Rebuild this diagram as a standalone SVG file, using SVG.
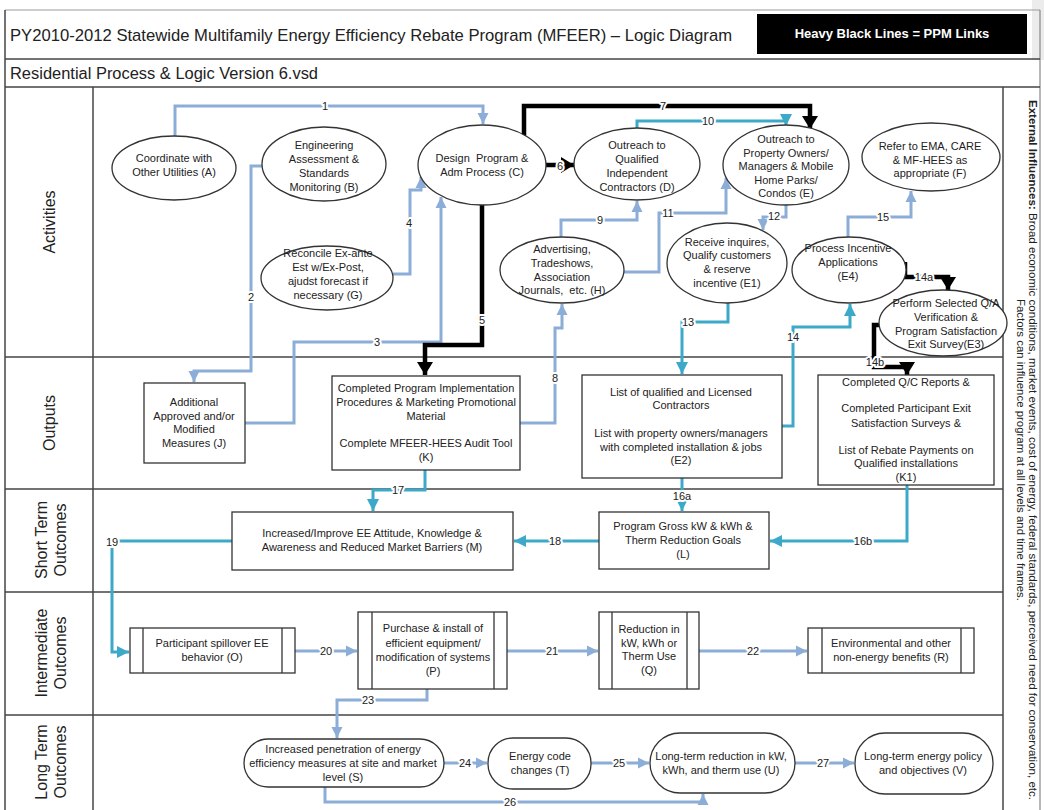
<svg xmlns="http://www.w3.org/2000/svg" width="1044" height="810" viewBox="0 0 1044 810">
<style>
.frame{stroke:#444;stroke-width:1.5;fill:none}
.nd{fill:#fff;stroke:#333;stroke-width:1.3}
.nt{font-family:"Liberation Sans",Arial,sans-serif;font-size:11px;fill:#222;text-anchor:middle}
.lane{font-family:"Liberation Sans",Arial,sans-serif;font-size:16px;fill:#222;text-anchor:middle}
.cb{fill:none;stroke:#8CADD8;stroke-width:3}
.ct{fill:none;stroke:#3DA9C9;stroke-width:3}
.ck{fill:none;stroke:#000;stroke-width:4.5}
.cl{font-family:"Liberation Sans",Arial,sans-serif;font-size:11px;fill:#222;text-anchor:middle;stroke:#fff;stroke-width:4;paint-order:stroke;stroke-linejoin:round}
</style>
<defs>
<marker id="ab" markerUnits="userSpaceOnUse" viewBox="0 0 12 12" markerWidth="12" markerHeight="12" refX="11" refY="6" orient="auto"><path d="M0,0.5 L11,6 L0,11.5z" fill="#8CADD8"/></marker>
<marker id="at" markerUnits="userSpaceOnUse" viewBox="0 0 13 13" markerWidth="13" markerHeight="13" refX="12" refY="6.5" orient="auto"><path d="M0,0.5 L12,6.5 L0,12.5z" fill="#3DA9C9"/></marker>
<marker id="ak" markerUnits="userSpaceOnUse" viewBox="0 0 14 16" markerWidth="14" markerHeight="16" refX="13" refY="8" orient="auto"><path d="M0,0 L13,8 L0,16z" fill="#000"/></marker>
</defs>
<rect x="0" y="0" width="1044" height="810" fill="#fff"/>
<rect x="1032" y="0" width="12" height="60" fill="#ececec"/>

<g id="frame">
<line x1="5" y1="10" x2="1040" y2="10" stroke="#999" stroke-width="1.2"/>
<line x1="5" y1="10" x2="5" y2="810" class="frame"/>
<line x1="1040" y1="10" x2="1040" y2="810" stroke="#888" stroke-width="1.2"/>
<line x1="5" y1="59" x2="1040" y2="59" class="frame"/>
<line x1="5" y1="87" x2="1040" y2="87" class="frame"/>
<line x1="93" y1="87" x2="93" y2="810" class="frame"/>
<line x1="1003" y1="87" x2="1003" y2="810" class="frame"/>
<line x1="5" y1="357" x2="1003" y2="357" class="frame"/>
<line x1="5" y1="489" x2="1003" y2="489" class="frame"/>
<line x1="5" y1="592" x2="1003" y2="592" class="frame"/>
<line x1="5" y1="715" x2="1003" y2="715" class="frame"/>
<text x="10" y="41" font-family="Liberation Sans, Arial, sans-serif" font-size="17" fill="#222" textLength="722" lengthAdjust="spacingAndGlyphs">PY2010-2012 Statewide Multifamily Energy Efficiency Rebate Program (MFEER) – Logic Diagram</text>
<rect x="757" y="14" width="270" height="40" fill="#000"/>
<text x="892" y="38" font-family="Liberation Sans, Arial, sans-serif" font-size="13" font-weight="bold" fill="#fff" text-anchor="middle">Heavy Black Lines = PPM Links</text>
<text x="10" y="79" font-family="Liberation Sans, Arial, sans-serif" font-size="16" fill="#222" textLength="308" lengthAdjust="spacingAndGlyphs">Residential Process &amp; Logic Version 6.vsd</text>
<text class="lane" transform="translate(55,222) rotate(-90)">Activities</text>
<text class="lane" transform="translate(55,423) rotate(-90)">Outputs</text>
<text class="lane" transform="translate(47,540) rotate(-90)">Short Term</text>
<text class="lane" transform="translate(66,540) rotate(-90)">Outcomes</text>
<text class="lane" transform="translate(47,653) rotate(-90)">Intermediate</text>
<text class="lane" transform="translate(66,653) rotate(-90)">Outcomes</text>
<text class="lane" transform="translate(47,762) rotate(-90)">Long Term</text>
<text class="lane" transform="translate(66,762) rotate(-90)">Outcomes</text>
<text transform="translate(1029,450) rotate(90)" font-family="Liberation Sans, Arial, sans-serif" font-size="11" fill="#222" text-anchor="middle" textLength="700" lengthAdjust="spacingAndGlyphs"><tspan font-weight="bold">External Influences:</tspan> Broad economic conditions, market events, cost of energy, federal standards, perceived need for conservation, etc.</text>
<text transform="translate(1017,450) rotate(90)" font-family="Liberation Sans, Arial, sans-serif" font-size="11" fill="#222" text-anchor="middle" textLength="302" lengthAdjust="spacingAndGlyphs">Factors can influence program at all levels and time frames.</text>
</g>

<g id="connectors">
<path class="cb" d="M175,136 V106 H483 V124" marker-end="url(#ab)"/>
<path class="cb" d="M262,166 H251 V371 H194 V382" marker-end="url(#ab)"/>
<path class="cb" d="M245,423 H294 V342 H441 V197" marker-end="url(#ab)"/>
<path class="cb" d="M393,274 H410 V190 H421 V177" marker-end="url(#ab)"/>
<path class="ck" d="M482,205 V345 H425 V375" marker-end="url(#ak)"/>
<path class="ck" d="M546,165 H574" marker-end="url(#ak)"/>
<path class="ck" d="M524,136 V106 H810 V129" marker-end="url(#ak)"/>
<path class="ct" d="M637,128 V121 H786 V126" marker-end="url(#at)"/>
<path class="cb" d="M561,237 V220 H637 V201" marker-end="url(#ab)"/>
<path class="cb" d="M624,272 H659 V213 H726 V178" marker-end="url(#ab)"/>
<path class="cb" d="M786,205 V217 H763 V230" marker-end="url(#ab)"/>
<path class="ct" d="M728,303 V322 H682 V374" marker-end="url(#at)"/>
<path class="ct" d="M782,426 H793 V327 H850 V304" marker-end="url(#at)"/>
<path class="cb" d="M848,237 V217 H911 V191" marker-end="url(#ab)"/>
<path class="ck" d="M905,262 V277 H948 V290" marker-end="url(#ak)"/>
<path class="ck" d="M880,325 H874 V367 H907 V375" marker-end="url(#ak)"/>
<path class="cb" d="M520,423 H555 V328 H562 V304" marker-end="url(#ab)"/>
<path class="ct" d="M682,478 V511" marker-end="url(#at)"/>
<path class="ct" d="M907,485 V541 H770" marker-end="url(#at)"/>
<path class="ct" d="M425,470 V490 H373 V511" marker-end="url(#at)"/>
<path class="ct" d="M599,541 H514" marker-end="url(#at)"/>
<path class="ct" d="M232,541 H112 V652 H129" marker-end="url(#at)"/>
<path class="cb" d="M295,651 H357" marker-end="url(#ab)"/>
<path class="cb" d="M507,651 H598" marker-end="url(#ab)"/>
<path class="cb" d="M699,651 H807" marker-end="url(#ab)"/>
<path class="cb" d="M427,689 V700 H337 V738" marker-end="url(#ab)"/>
<path class="cb" d="M444,763 H487" marker-end="url(#ab)"/>
<path class="cb" d="M591,763 H649" marker-end="url(#ab)"/>
<path class="cb" d="M325,787 V802 H703 V794" marker-end="url(#ab)"/>
<path class="cb" d="M795,763 H854" marker-end="url(#ab)"/>
<text class="cl" x="325" y="110">1</text>
<text class="cl" x="251" y="301">2</text>
<text class="cl" x="377" y="346">3</text>
<text class="cl" x="409" y="227">4</text>
<text class="cl" x="482" y="324">5</text>
<text class="cl" x="560" y="170">6</text>
<text class="cl" x="663" y="110">7</text>
<text class="cl" x="555" y="382">8</text>
<text class="cl" x="600" y="224">9</text>
<text class="cl" x="708" y="125">10</text>
<text class="cl" x="668" y="217">11</text>
<text class="cl" x="774" y="220">12</text>
<text class="cl" x="688" y="326">13</text>
<text class="cl" x="793" y="341">14</text>
<text class="cl" x="924" y="281">14a</text>
<text class="cl" x="875" y="366">14b</text>
<text class="cl" x="883" y="221">15</text>
<text class="cl" x="682" y="500">16a</text>
<text class="cl" x="863" y="545">16b</text>
<text class="cl" x="398" y="494">17</text>
<text class="cl" x="555" y="545">18</text>
<text class="cl" x="112" y="546">19</text>
<text class="cl" x="326" y="655">20</text>
<text class="cl" x="552" y="655">21</text>
<text class="cl" x="753" y="655">22</text>
<text class="cl" x="368" y="704">23</text>
<text class="cl" x="465" y="767">24</text>
<text class="cl" x="619" y="767">25</text>
<text class="cl" x="510" y="806">26</text>
<text class="cl" x="823" y="767">27</text>
</g>

<g id="node-A"><ellipse class="nd" cx="174" cy="168" rx="62" ry="32"/><text class="nt"><tspan x="174" y="162">Coordinate with</tspan><tspan x="174" y="176">Other Utilities (A)</tspan></text></g>
<g id="node-B"><ellipse class="nd" cx="324" cy="164" rx="62" ry="37"/><text class="nt"><tspan x="324" y="149">Engineering</tspan><tspan x="324" y="163">Assessment &amp;</tspan><tspan x="324" y="177">Standards</tspan><tspan x="324" y="191">Monitoring (B)</tspan></text></g>
<g id="node-C"><ellipse class="nd" cx="482" cy="165" rx="64" ry="40"/><text class="nt" xml:space="preserve"><tspan x="482" y="162">Design  Program &amp;</tspan><tspan x="482" y="176">Adm Process (C)</tspan></text></g>
<g id="node-G"><ellipse class="nd" cx="327" cy="278" rx="66" ry="32"/><text class="nt"><tspan x="328" y="257">Reconcile Ex-ante</tspan><tspan x="328" y="271">Est w/Ex-Post,</tspan><tspan x="328" y="285">ajudst forecast if</tspan><tspan x="328" y="299">necessary (G)</tspan></text></g>
<g id="node-H"><ellipse class="nd" cx="562" cy="270" rx="62" ry="33"/><text class="nt" xml:space="preserve"><tspan x="562" y="253">Advertising,</tspan><tspan x="562" y="267">Tradeshows,</tspan><tspan x="562" y="281">Association</tspan><tspan x="562" y="294">Journals,  etc. (H)</tspan></text></g>
<g id="node-D"><ellipse class="nd" cx="637" cy="164" rx="63" ry="36"/><text class="nt"><tspan x="637" y="149">Outreach to</tspan><tspan x="637" y="163">Qualified</tspan><tspan x="637" y="177">Independent</tspan><tspan x="637" y="191">Contractors (D)</tspan></text></g>
<g id="node-E"><ellipse class="nd" cx="786" cy="165" rx="63" ry="40"/><text class="nt"><tspan x="786" y="143">Outreach to</tspan><tspan x="786" y="157">Property Owners/</tspan><tspan x="786" y="170">Managers &amp; Mobile</tspan><tspan x="786" y="184">Home Parks/</tspan><tspan x="786" y="197">Condos (E)</tspan></text></g>
<g id="node-F"><ellipse class="nd" cx="931" cy="157" rx="69" ry="34"/><text class="nt"><tspan x="930" y="150">Refer to EMA, CARE</tspan><tspan x="930" y="164">&amp; MF-HEES as</tspan><tspan x="930" y="177">appropriate (F)</tspan></text></g>
<g id="node-E1"><ellipse class="nd" cx="727" cy="263" rx="60" ry="40"/><text class="nt"><tspan x="727" y="246">Receive inquires,</tspan><tspan x="727" y="259">Qualify customers</tspan><tspan x="727" y="273">&amp; reserve</tspan><tspan x="727" y="287">incentive (E1)</tspan></text></g>
<g id="node-E4"><ellipse class="nd" cx="849" cy="270" rx="57" ry="33"/><text class="nt"><tspan x="848" y="252">Process Incentive</tspan><tspan x="848" y="266">Applications</tspan><tspan x="848" y="280">(E4)</tspan></text></g>
<g id="node-E3"><ellipse class="nd" cx="943" cy="323" rx="64" ry="33"/><text class="nt"><tspan x="946" y="307">Perform Selected Q/A</tspan><tspan x="946" y="321">Verification &amp;</tspan><tspan x="946" y="335">Program Satisfaction</tspan><tspan x="946" y="348">Exit Survey(E3)</tspan></text></g>

<g id="node-J"><rect class="nd" x="144" y="383" width="101" height="80"/><text class="nt"><tspan x="194" y="406">Additional</tspan><tspan x="194" y="420">Approved and/or</tspan><tspan x="194" y="433">Modified</tspan><tspan x="194" y="447">Measures (J)</tspan></text></g>
<g id="node-K"><rect class="nd" x="332" y="376" width="188" height="94"/><text class="nt"><tspan x="426" y="392">Completed Program Implementation</tspan><tspan x="426" y="406">Procedures &amp; Marketing Promotional</tspan><tspan x="426" y="420">Material</tspan><tspan x="426" y="447">Complete MFEER-HEES Audit Tool</tspan><tspan x="426" y="461">(K)</tspan></text></g>
<g id="node-E2"><rect class="nd" x="582" y="375" width="200" height="103"/><text class="nt"><tspan x="681" y="396">List of qualified and Licensed</tspan><tspan x="681" y="409">Contractors</tspan><tspan x="681" y="437">List with property owners/managers</tspan><tspan x="681" y="451">with completed installation &amp; jobs</tspan><tspan x="681" y="464">(E2)</tspan></text></g>
<g id="node-K1"><rect class="nd" x="818" y="375" width="176" height="110"/><text class="nt"><tspan x="906" y="386">Completed Q/C Reports &amp;</tspan><tspan x="906" y="412">Completed Participant Exit</tspan><tspan x="906" y="427">Satisfaction Surveys &amp;</tspan><tspan x="906" y="454">List of Rebate Payments on</tspan><tspan x="906" y="467">Qualified installations</tspan><tspan x="906" y="481">(K1)</tspan></text></g>

<g id="node-M"><rect class="nd" x="232" y="512" width="281" height="58"/><text class="nt"><tspan x="372" y="537">Increased/Improve EE Attitude, Knowledge &amp;</tspan><tspan x="372" y="551">Awareness and Reduced Market Barriers (M)</tspan></text></g>
<g id="node-L"><rect class="nd" x="599" y="512" width="170" height="57"/><text class="nt"><tspan x="683" y="530">Program Gross kW &amp; kWh &amp;</tspan><tspan x="683" y="544">Therm Reduction Goals</tspan><tspan x="683" y="558">(L)</tspan></text></g>

<g id="node-O"><rect class="nd" x="130" y="628" width="165" height="45"/><line x1="143" y1="628" x2="143" y2="673" stroke="#333" stroke-width="1.3"/><line x1="282" y1="628" x2="282" y2="673" stroke="#333" stroke-width="1.3"/><text class="nt"><tspan x="212" y="647">Participant spillover EE</tspan><tspan x="212" y="661">behavior (O)</tspan></text></g>
<g id="node-P"><rect class="nd" x="358" y="612" width="149" height="77"/><line x1="372" y1="612" x2="372" y2="689" stroke="#333" stroke-width="1.3"/><line x1="494" y1="612" x2="494" y2="689" stroke="#333" stroke-width="1.3"/><text class="nt"><tspan x="433" y="632">Purchase &amp; install of</tspan><tspan x="433" y="647">efficient equipment/</tspan><tspan x="433" y="661">modification of systems</tspan><tspan x="433" y="675">(P)</tspan></text></g>
<g id="node-Q"><rect class="nd" x="599" y="612" width="100" height="77"/><line x1="612" y1="612" x2="612" y2="689" stroke="#333" stroke-width="1.3"/><line x1="687" y1="612" x2="687" y2="689" stroke="#333" stroke-width="1.3"/><text class="nt"><tspan x="649" y="633">Reduction in</tspan><tspan x="649" y="647">kW, kWh or</tspan><tspan x="649" y="660">Therm Use</tspan><tspan x="649" y="674">(Q)</tspan></text></g>
<g id="node-R"><rect class="nd" x="808" y="628" width="166" height="45"/><line x1="822" y1="628" x2="822" y2="673" stroke="#333" stroke-width="1.3"/><line x1="961" y1="628" x2="961" y2="673" stroke="#333" stroke-width="1.3"/><text class="nt"><tspan x="891" y="647">Environmental and other</tspan><tspan x="891" y="661">non-energy benefits (R)</tspan></text></g>

<g id="node-S"><rect class="nd" x="244" y="739" width="200" height="48" rx="24"/><text class="nt"><tspan x="343" y="753">Increased penetration of energy</tspan><tspan x="343" y="767">efficiency measures at site and market</tspan><tspan x="343" y="781">level (S)</tspan></text></g>
<g id="node-T"><rect class="nd" x="488" y="738" width="103" height="51" rx="25"/><text class="nt"><tspan x="540" y="760">Energy code</tspan><tspan x="540" y="774">changes (T)</tspan></text></g>
<g id="node-U"><rect class="nd" x="650" y="733" width="145" height="60" rx="30"/><text class="nt"><tspan x="721" y="760">Long-term reduction in kW,</tspan><tspan x="721" y="774">kWh, and therm use (U)</tspan></text></g>
<g id="node-V"><rect class="nd" x="855" y="733" width="138" height="61" rx="30"/><text class="nt"><tspan x="923" y="760">Long-term energy policy</tspan><tspan x="923" y="774">and objectives (V)</tspan></text></g>
</svg>
